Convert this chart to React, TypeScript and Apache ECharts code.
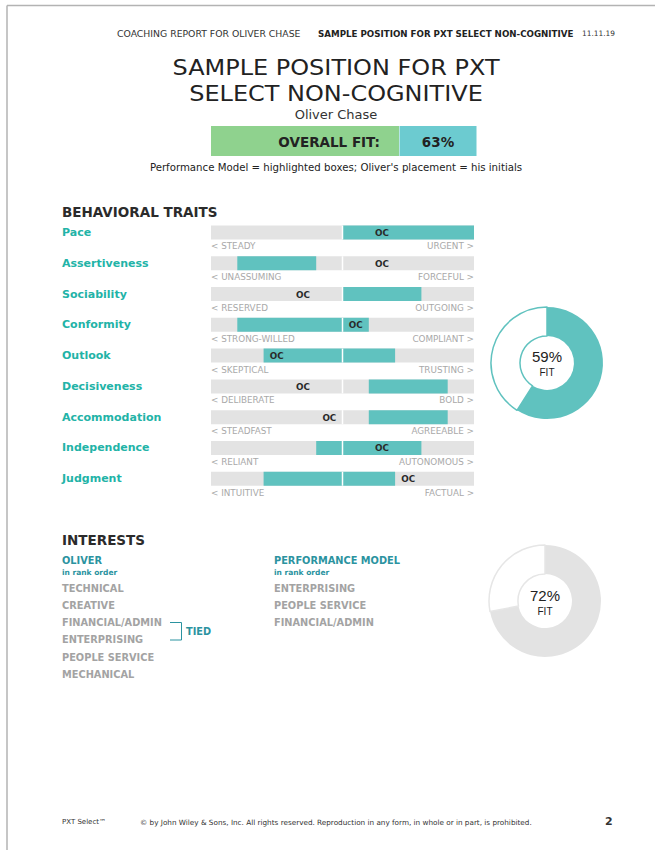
import React, { useEffect, useRef } from "react";
import * as echarts from "echarts";

const traits = ["Pace", "Assertiveness", "Sociability", "Conformity", "Outlook", "Decisiveness", "Accommodation", "Independence", "Judgment"];
const leftLabels = ["< STEADY", "< UNASSUMING", "< RESERVED", "< STRONG-WILLED", "< SKEPTICAL", "< DELIBERATE", "< STEADFAST", "< RELIANT", "< INTUITIVE"];
const rightLabels = ["URGENT >", "FORCEFUL >", "OUTGOING >", "COMPLIANT >", "TRUSTING >", "BOLD >", "AGREEABLE >", "AUTONOMOUS >", "FACTUAL >"];
// performance model highlighted segments (start inclusive, end exclusive), on a 10-segment scale
const modelStart = [5, 1, 5, 1, 2, 6, 6, 4, 2];
const modelEnd = [10, 4, 8, 6, 7, 9, 9, 8, 7];
// Oliver's placement segment index
const ocSegment = [6, 6, 3, 5, 2, 3, 4, 6, 7];
const segmentCount = 10;

const behavioralFit = 59;
const interestFit = 72;
const overallFit = 63;

const oliverInterests = ["TECHNICAL", "CREATIVE", "FINANCIAL/ADMIN", "ENTERPRISING", "PEOPLE SERVICE", "MECHANICAL"];
const modelInterests = ["ENTERPRISING", "PEOPLE SERVICE", "FINANCIAL/ADMIN"];

const FONT = "'DejaVu Sans', sans-serif";
const TEAL = "#60c2bf";
const TEAL_TEXT = "#22b3a7";
const TEAL_DARK = "#2b93a0";
const TRACK = "#e3e3e3";

function txt(text: string, x: number, y: number, o: any = {}) {
  const align = o.align || "left";
  const style: any = {
    text,
    fill: o.color || "#333",
    font: `${o.weight || "normal"} ${o.size || 10}px ${o.family || FONT}`,
    align,
    verticalAlign: "middle",
    textAlign: align,
    textVerticalAlign: "middle",
  };
  if (o.lineHeight) style.lineHeight = o.lineHeight;
  const el: any = { type: "text", x, y, silent: true, style };
  if (o.scaleX) el.scaleX = o.scaleX;
  return el;
}

export default function App() {
  const ref = useRef<HTMLDivElement>(null);
  useEffect(() => {
    if (!ref.current) return;
    const chart = echarts.init(ref.current, undefined, { renderer: "svg" });

    const graphics: any[] = [
      { type: "line", shape: { x1: 7, y1: 5.5, x2: 655, y2: 5.5 }, style: { stroke: "#b3b3b3", lineWidth: 1.5 }, silent: true },
      { type: "line", shape: { x1: 7, y1: 5.5, x2: 7, y2: 850 }, style: { stroke: "#b3b3b3", lineWidth: 1.5 }, silent: true },
      txt("COACHING REPORT FOR OLIVER CHASE", 117, 33.5, { size: 9.3, color: "#333" }),
      txt("SAMPLE POSITION FOR PXT SELECT NON-COGNITIVE", 318, 33.5, { size: 8.7, weight: "bold", color: "#222" }),
      txt("11.11.19", 582, 33.5, { size: 7.4, color: "#333" }),
      txt("SAMPLE POSITION FOR PXT\nSELECT NON-COGNITIVE", 336, 80.5, { size: 22, align: "center", color: "#222", lineHeight: 26, scaleX: 1.09 }),
      txt("Oliver Chase", 336, 114.5, { size: 13, align: "center", color: "#333" }),
      { type: "rect", shape: { x: 211, y: 126, width: 188, height: 30 }, style: { fill: "#8fd28e" }, silent: true },
      { type: "rect", shape: { x: 399.5, y: 126, width: 77, height: 30 }, style: { fill: "#6ccbd0" }, silent: true },
      txt("OVERALL FIT:", 380, 141.5, { size: 13.5, weight: "bold", align: "right", color: "#222" }),
      txt(`${overallFit}%`, 438, 141.5, { size: 13.5, weight: "bold", align: "center", color: "#222" }),
      txt("Performance Model = highlighted boxes; Oliver's placement = his initials", 336, 167, { size: 10.2, align: "center", color: "#222" }),
      txt("BEHAVIORAL TRAITS", 62, 212, { size: 13.5, weight: "bold", color: "#2b2b2b" }),
      txt(`${behavioralFit}%`, 547, 356, { size: 15, align: "center", color: "#222", family: "'Liberation Sans', sans-serif" }),
      txt("FIT", 547, 372.5, { size: 10, align: "center", color: "#222", family: "'Liberation Sans', sans-serif" }),
      txt("INTERESTS", 62, 540, { size: 13.5, weight: "bold", color: "#2b2b2b" }),
      txt("OLIVER", 62, 560, { size: 9.8, weight: "bold", color: TEAL_DARK }),
      txt("in rank order", 62, 572, { size: 7.5, weight: "bold", color: TEAL_DARK }),
      txt("PERFORMANCE MODEL", 274, 560, { size: 9.8, weight: "bold", color: TEAL_DARK }),
      txt("in rank order", 274, 572, { size: 7.5, weight: "bold", color: TEAL_DARK }),
      { type: "polyline", shape: { points: [[170, 622.5], [181.5, 622.5], [181.5, 640], [170, 640]] }, style: { stroke: TEAL_DARK, lineWidth: 1, fill: null }, silent: true },
      txt("TIED", 186, 631, { size: 9.8, weight: "bold", color: TEAL_DARK }),
      txt(`${interestFit}%`, 545, 595, { size: 15, align: "center", color: "#222", family: "'Liberation Sans', sans-serif" }),
      txt("FIT", 545, 611.5, { size: 10, align: "center", color: "#222", family: "'Liberation Sans', sans-serif" }),
      txt("PXT Select™", 62, 822, { size: 7, color: "#333" }),
      txt("© by John Wiley & Sons, Inc. All rights reserved. Reproduction in any form, in whole or in part, is prohibited.", 140, 822, { size: 7.25, color: "#333" }),
      txt("2", 605, 821, { size: 11, weight: "bold", color: "#333" }),
    ];
    oliverInterests.forEach((s, i) => graphics.push(txt(s, 62, 588.3 + i * 17.2, { size: 9.8, weight: "bold", color: "#a3a3a3" })));
    modelInterests.forEach((s, i) => graphics.push(txt(s, 274, 588.3 + i * 17.2, { size: 9.8, weight: "bold", color: "#a3a3a3" })));

    const BAR_H = 14;
    const option: any = {
      animation: false,
      grid: { left: 211, width: 263, top: 217.1, height: 277, containLabel: false },
      xAxis: { type: "value", min: 0, max: segmentCount, show: false },
      yAxis: {
        type: "category",
        data: traits,
        inverse: true,
        axisLine: { show: false },
        axisTick: { show: false },
        splitLine: { show: false },
        axisLabel: { align: "left", margin: 149, color: TEAL_TEXT, fontWeight: "bold", fontSize: 11, fontFamily: FONT },
      },
      graphic: graphics,
      series: [
        {
          type: "custom",
          name: "track",
          z: 1,
          silent: true,
          encode: { x: [0, 2], y: 1 },
          data: traits.map((_, i) => [0, i, segmentCount]),
          renderItem: (params: any, api: any) => {
            const i = api.value(1);
            const p0 = api.coord([api.value(0), i]);
            const p1 = api.coord([api.value(2), i]);
            return {
              type: "group",
              children: [
                { type: "rect", shape: { x: p0[0], y: p0[1] - BAR_H / 2, width: p1[0] - p0[0], height: BAR_H }, style: { fill: TRACK } },
                { type: "text", x: p0[0], y: p0[1] + 14, style: { text: leftLabels[i], fill: "#a9a9a9", font: `8.8px ${FONT}`, align: "left", verticalAlign: "middle" } },
                { type: "text", x: p1[0], y: p0[1] + 14, style: { text: rightLabels[i], fill: "#a9a9a9", font: `8.8px ${FONT}`, align: "right", verticalAlign: "middle" } },
              ],
            };
          },
        },
        {
          type: "custom",
          name: "model",
          z: 2,
          silent: true,
          encode: { x: [0, 2], y: 1 },
          data: traits.map((_, i) => [modelStart[i], i, modelEnd[i]]),
          renderItem: (params: any, api: any) => {
            const i = api.value(1);
            const p0 = api.coord([api.value(0), i]);
            const p1 = api.coord([api.value(2), i]);
            return { type: "rect", shape: { x: p0[0], y: p0[1] - BAR_H / 2, width: p1[0] - p0[0], height: BAR_H }, style: { fill: TEAL } };
          },
        },
        {
          type: "custom",
          name: "divider",
          z: 3,
          silent: true,
          encode: { x: 0, y: 1 },
          data: traits.map((_, i) => [segmentCount / 2, i]),
          renderItem: (params: any, api: any) => {
            const p = api.coord([api.value(0), api.value(1)]);
            return { type: "line", shape: { x1: p[0], y1: p[1] - BAR_H / 2, x2: p[0], y2: p[1] + BAR_H / 2 }, style: { stroke: "#ffffff", lineWidth: 1.5 } };
          },
        },
        {
          type: "custom",
          name: "oc",
          z: 4,
          silent: true,
          encode: { x: 0, y: 1 },
          data: traits.map((_, i) => [ocSegment[i] + 0.5, i]),
          renderItem: (params: any, api: any) => {
            const p = api.coord([api.value(0), api.value(1)]);
            return { type: "text", x: p[0], y: p[1] + 0.5, style: { text: "OC", fill: "#2a2a2a", font: `bold 8.8px ${FONT}`, align: "center", verticalAlign: "middle" } };
          },
        },
        {
          type: "pie",
          name: "behavioral",
          silent: true,
          center: [547, 363],
          radius: [27, 56],
          startAngle: 90,
          clockwise: true,
          label: { show: false },
          labelLine: { show: false },
          data: [
            { value: behavioralFit, itemStyle: { color: TEAL } },
            { value: 100 - behavioralFit, itemStyle: { color: "#ffffff", borderColor: TEAL, borderWidth: 1.5 } },
          ],
        },
        {
          type: "pie",
          name: "interests",
          silent: true,
          center: [545, 601],
          radius: [27, 56],
          startAngle: 90,
          clockwise: true,
          label: { show: false },
          labelLine: { show: false },
          data: [
            { value: interestFit, itemStyle: { color: TRACK } },
            { value: 100 - interestFit, itemStyle: { color: "#ffffff", borderColor: "#e6e6e6", borderWidth: 1.5 } },
          ],
        },
      ],
    };
    chart.setOption(option);
    return () => chart.dispose();
  }, []);
  return <div ref={ref} style={{ position: "absolute", left: 0, top: 0, width: 655, height: 850, background: "#fff" }} />;
}
